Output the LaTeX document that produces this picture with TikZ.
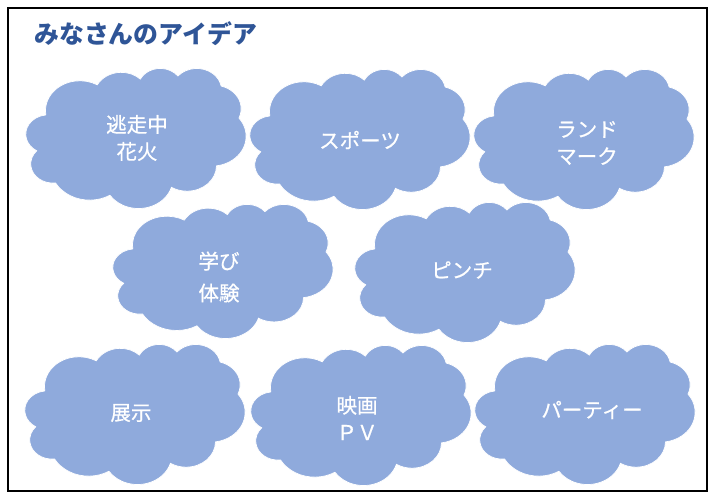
\documentclass[tikz,border=0pt]{standalone}
\usepackage{fontspec}
\newfontfamily\jpfont{Noto Sans CJK JP}
\newfontfamily\jpmidfont[FakeBold=0.6]{Noto Sans CJK JP}
\definecolor{cloudblue}{HTML}{8FAADC}
\definecolor{titleblue}{HTML}{2F5597}

\tikzset{
  declare function={paramang(\a,\b,\c)=\a+atan((\b-\c)*sin(\a)*cos(\a)/(\c*cos(\a)^2+\b*sin(\a)^2));},
  cloudshape/.style={fill=cloudblue, draw=white, line width=0.5pt},
  ideatext/.style={text=white, align=center, inner sep=0pt, font=\jpmidfont\fontsize{14.6}{19.2}\selectfont},
  titletext/.style={text=titleblue, anchor=west, inner sep=0pt, font=\jpfont\bfseries\fontsize{17.7}{20}\selectfont},
  outerframe/.style={draw=black, line width=1.4pt}
}

% cloud outline in a 43.2 x 43.2 box, arcs given by radii and start/sweep angles
\newcommand\drawcloud[4]{%
  \begin{scope}[shift={(#1,#2)}, x=1cm, y=1cm, xscale=#3/1728, yscale=-#4/1728, shift={(-21.6,-21.6)}]
    \filldraw[cloudshape] (3.9,14.37)
      \foreach \rx/\ry/\st/\sw in {6.753/9.190/-190.4875/123.7805, 5.333/7.267/-144.1024/89.9452,
        4.365/5.945/-145.8079/99.7230, 4.857/6.595/-130.9861/117.2417, 5.333/7.273/-78.7089/109.0269,
        6.775/9.220/-46.2673/130.2690, 5.785/7.867/0.6250/114.0333, 6.752/9.215/22.4516/115.1726,
        7.720/10.543/66.2426/75.7110, 4.360/5.918/-274.9421/146.7356, 4.345/5.945/-246.8285/152.5189}
      {
        \pgfextra{\pgfmathsetmacro\ts{paramang(\st,\rx,\ry)}\pgfmathsetmacro\te{paramang(\st+\sw,\rx,\ry)}}
        arc[start angle=\ts, end angle=\te, x radius=\rx, y radius=\ry]
      } -- cycle;
  \end{scope}}

\begin{document}
\begin{tikzpicture}[x=0.025cm, y=-0.025cm]
\useasboundingbox (0,0) rectangle (712,498);

\def\cloudw{220}
\def\cloudh{140}

\draw[outerframe] (8,8) rectangle (707,491);
\node[titletext] (title) at (34,34) {みなさんのアイデア};

\drawcloud{136}{138}{\cloudw}{\cloudh}
\drawcloud{360}{139}{\cloudw}{\cloudh}
\drawcloud{584}{139}{\cloudw}{\cloudh}
\drawcloud{223}{271}{\cloudw}{134}
\drawcloud{465}{272}{\cloudw}{\cloudh}
\drawcloud{135}{414}{\cloudw}{\cloudh}
\drawcloud{361}{415}{\cloudw}{\cloudh}
\drawcloud{585}{414}{\cloudw}{\cloudh}

\node[ideatext] (escape) at (137,138) {逃走中\\花火};
\node[ideatext] (sports) at (360,140) {スポーツ};
\node[ideatext] (landmark) at (587,143) {ランド\\マーク};
\node[ideatext] (learning) at (219,277) {学び\\[3.5pt]体験};
\node[ideatext] (pinch) at (462,270) {ピンチ};
\node[ideatext] (exhibit) at (131,413) {展示};
\node[ideatext] (moviepv) at (357,418) {映画\\ＰＶ};
\node[ideatext] (party) at (592,410) {パーティー};
\end{tikzpicture}
\end{document}
